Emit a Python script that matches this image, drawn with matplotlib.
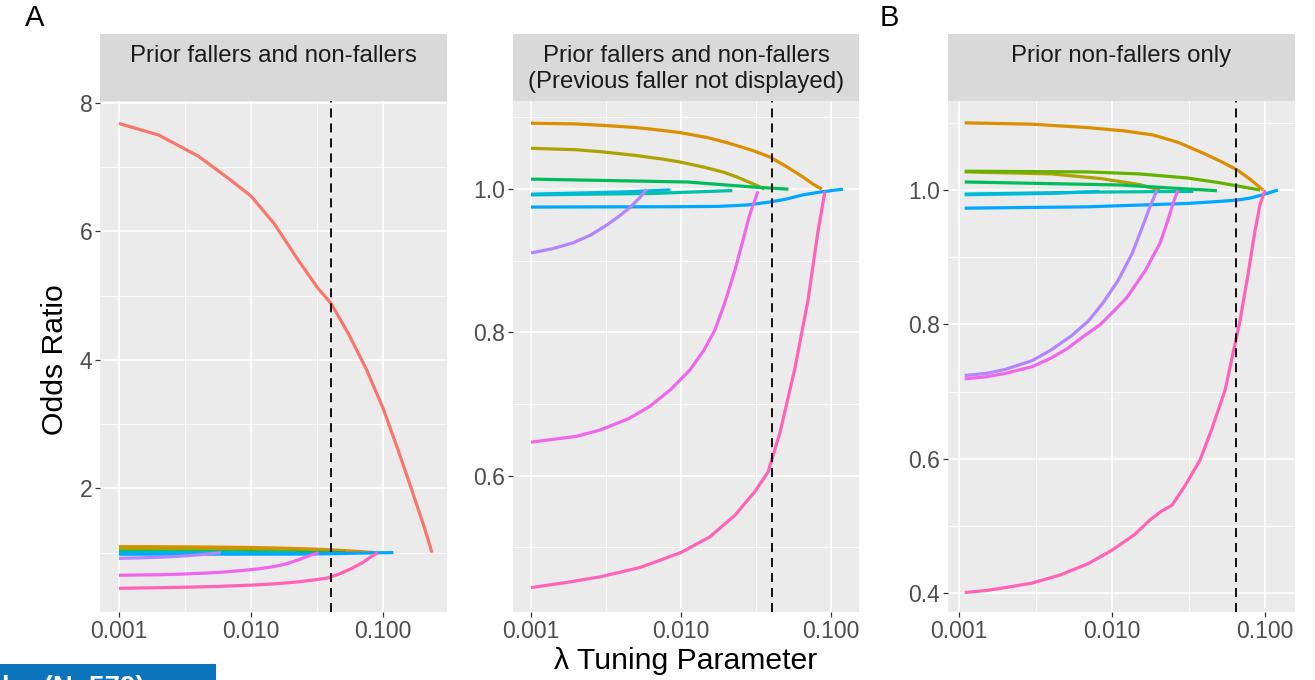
import numpy as np
import matplotlib
matplotlib.use("Agg")
from matplotlib import pyplot as plt
from matplotlib.patches import Rectangle

plt.rcParams['font.family'] = ['Liberation Sans', 'DejaVu Sans']

# ggplot hue colours (11 groups)
col_red = '#F8766D'
col_orange = '#DB8E00'
col_olive = '#AEA200'
col_yg = '#64B200'
col_green = '#00BD5C'
col_teal = '#00C1A7'
col_cyan = '#00BADE'
col_blue = '#00A6FF'
col_lav = '#B385FF'
col_mag = '#EF67EB'
col_pink = '#FF63B6'

# ---- A: prior fallers and non-fallers ----
lam_red = [0.001, 0.002, 0.004, 0.007, 0.01, 0.015, 0.022, 0.032, 0.0404,
           0.055, 0.075, 0.1, 0.13, 0.17, 0.205, 0.235]
or_red = [7.68, 7.5, 7.17, 6.8, 6.55, 6.12, 5.6, 5.12, 4.88,
          4.4, 3.85, 3.25, 2.6, 1.9, 1.4, 1.0]

lam_orange_A = [0.001, 0.002, 0.003, 0.005, 0.0075, 0.0098, 0.015, 0.021,
                0.030, 0.039, 0.051, 0.065, 0.076, 0.087]
or_orange_A = [1.092, 1.091, 1.089, 1.086, 1.082, 1.079, 1.072, 1.064,
               1.054, 1.045, 1.031, 1.017, 1.007, 1.0]

lam_olive_A = [0.001, 0.002, 0.003, 0.005, 0.0075, 0.0098, 0.014, 0.019,
               0.0236, 0.029, 0.033, 0.036]
or_olive_A = [1.057, 1.055, 1.052, 1.047, 1.042, 1.038, 1.031, 1.024,
              1.017, 1.009, 1.004, 1.0]

lam_green_A = [0.001, 0.011, 0.030, 0.052]
or_green_A = [1.014, 1.010, 1.003, 1.0]

lam_teal_A = [0.001, 0.0065, 0.022]
or_teal_A = [0.992, 0.994, 0.998]

lam_cyan_A = [0.001, 0.004, 0.0085]
or_cyan_A = [0.993, 0.996, 0.999]

lam_blue_A = [0.001, 0.01, 0.018, 0.028, 0.039, 0.05, 0.065, 0.085, 0.12]
or_blue_A = [0.975, 0.9755, 0.976, 0.978, 0.982, 0.986, 0.992, 0.996, 1.0]

lam_lav_A = [0.001, 0.0014, 0.0019, 0.0025, 0.0031, 0.0038, 0.0046, 0.0053, 0.0059]
or_lav_A = [0.911, 0.917, 0.925, 0.936, 0.948, 0.961, 0.975, 0.988, 1.0]

lam_mag_A = [0.001, 0.002, 0.0029, 0.0045, 0.0062, 0.0085, 0.0115, 0.0142,
             0.0168, 0.0195, 0.0229, 0.026, 0.0287, 0.0326]
or_mag_A = [0.647, 0.655, 0.664, 0.68, 0.697, 0.72, 0.748, 0.775,
            0.803, 0.84, 0.887, 0.93, 0.964, 0.997]

lam_pink_A = [0.001, 0.00182, 0.00288, 0.00533, 0.01, 0.0156, 0.0229, 0.0311,
              0.038, 0.0457, 0.0575, 0.0703, 0.0818, 0.0912]
or_pink_A = [0.444, 0.452, 0.459, 0.472, 0.493, 0.515, 0.545, 0.578,
             0.605, 0.66, 0.75, 0.845, 0.94, 0.997]

# ---- B: prior non-fallers only ----
lam_orange_B = [0.00109, 0.003, 0.00687, 0.012, 0.0185, 0.027, 0.0394, 0.052,
                0.0657, 0.08, 0.097]
or_orange_B = [1.100, 1.098, 1.093, 1.088, 1.082, 1.071, 1.055, 1.042,
               1.030, 1.016, 1.0]

lam_olive_B = [0.00109, 0.004, 0.0085, 0.0152, 0.0206]
or_olive_B = [1.027, 1.024, 1.017, 1.008, 1.0]

lam_yg_B = [0.00109, 0.00687, 0.015, 0.0309, 0.05, 0.07, 0.0927]
or_yg_B = [1.028, 1.027, 1.024, 1.018, 1.011, 1.005, 1.0]

lam_green_B = [0.00109, 0.0113, 0.0485]
or_green_B = [1.012, 1.0075, 0.999]

lam_teal_B = [0.00109, 0.008, 0.034]
or_teal_B = [0.994, 0.997, 0.998]

lam_cyan_B = [0.00109, 0.004, 0.0083]
or_cyan_B = [0.993, 0.995, 0.998]

lam_blue_B = [0.00109, 0.00687, 0.0309, 0.05, 0.0657, 0.08, 0.097, 0.11, 0.1216]
or_blue_B = [0.973, 0.975, 0.980, 0.983, 0.985, 0.988, 0.993, 0.997, 1.0]

lam_lav_B = [0.00109, 0.0015, 0.002, 0.003, 0.004, 0.0055, 0.007, 0.0088,
             0.011, 0.0135, 0.0158, 0.0177, 0.0197]
or_lav_B = [0.724, 0.727, 0.733, 0.746, 0.762, 0.784, 0.805, 0.833,
            0.866, 0.905, 0.945, 0.975, 1.0]

lam_mag_B = [0.00109, 0.0015, 0.002, 0.003, 0.004, 0.0051, 0.0065, 0.0084,
             0.0105, 0.0125, 0.0165, 0.0206, 0.0232, 0.0251, 0.027]
or_mag_B = [0.719, 0.722, 0.727, 0.737, 0.75, 0.764, 0.782, 0.80,
            0.822, 0.84, 0.88, 0.921, 0.955, 0.981, 1.0]

lam_pink_B = [0.00109, 0.0015, 0.00185, 0.003, 0.00457, 0.007, 0.01, 0.014,
              0.0177, 0.021, 0.0247, 0.03, 0.0376, 0.045, 0.0548, 0.0615,
              0.0687, 0.0775, 0.0861, 0.0927, 0.1]
or_pink_B = [0.401, 0.404, 0.407, 0.415, 0.427, 0.444, 0.464, 0.487,
             0.509, 0.522, 0.531, 0.56, 0.598, 0.645, 0.702, 0.755,
             0.806, 0.875, 0.94, 0.978, 1.0]

# selected lambda (dashed lines)
lam_sel_A = 0.0404
lam_sel_B = 0.0646

strip_titles = ['Prior fallers and non-fallers',
                'Prior fallers and non-fallers\n(Previous faller not displayed)',
                'Prior non-fallers only']

series_A = [(lam_orange_A, or_orange_A, col_orange),
            (lam_olive_A, or_olive_A, col_olive),
            (lam_green_A, or_green_A, col_green),
            (lam_teal_A, or_teal_A, col_teal),
            (lam_cyan_A, or_cyan_A, col_cyan),
            (lam_blue_A, or_blue_A, col_blue),
            (lam_lav_A, or_lav_A, col_lav),
            (lam_mag_A, or_mag_A, col_mag),
            (lam_pink_A, or_pink_A, col_pink)]
panel1 = [(lam_red, or_red, col_red)] + series_A
panel2 = series_A
panel3 = [(lam_orange_B, or_orange_B, col_orange),
          (lam_olive_B, or_olive_B, col_olive),
          (lam_yg_B, or_yg_B, col_yg),
          (lam_green_B, or_green_B, col_green),
          (lam_teal_B, or_teal_B, col_teal),
          (lam_cyan_B, or_cyan_B, col_cyan),
          (lam_blue_B, or_blue_B, col_blue),
          (lam_lav_B, or_lav_B, col_lav),
          (lam_mag_B, or_mag_B, col_mag),
          (lam_pink_B, or_pink_B, col_pink)]

W, H = 1315, 680
fig = plt.figure(figsize=(W / 100, H / 100), dpi=100)


def px(x0, y_top, x1, y_bot):
    return [x0 / W, 1 - y_bot / H, (x1 - x0) / W, (y_bot - y_top) / H]


panels = [
    dict(box=(100, 447), data=panel1, sel=lam_sel_A, xlim=(-3.144, -0.515),
         ylim=(0.075, 8.03), yt=[2, 4, 6, 8], ym=[1, 3, 5, 7], fmt='%d'),
    dict(box=(513, 859), data=panel2, sel=lam_sel_A, xlim=(-3.12, -0.813),
         ylim=(0.41, 1.123), yt=[0.6, 0.8, 1.0], ym=[0.5, 0.7, 0.9, 1.1], fmt='%.1f'),
    dict(box=(948, 1295), data=panel3, sel=lam_sel_B, xlim=(-3.072, -0.804),
         ylim=(0.372, 1.1325), yt=[0.4, 0.6, 0.8, 1.0], ym=[0.5, 0.7, 0.9, 1.1], fmt='%.1f'),
]

for p, title in zip(panels, strip_titles):
    x0, x1 = p['box']
    ax = fig.add_axes(px(x0, 101, x1, 612))
    ax.set_facecolor('#EBEBEB')
    ax.set_xscale('log')
    ax.set_xlim(10 ** p['xlim'][0], 10 ** p['xlim'][1])
    ax.set_ylim(*p['ylim'])
    for s in ax.spines.values():
        s.set_visible(False)

    # grid
    for m in [10 ** -3.5, 10 ** -2.5, 10 ** -1.5, 10 ** -0.5]:
        ax.axvline(m, color='white', lw=0.6, zorder=0)
    for m in p['ym']:
        ax.axhline(m, color='white', lw=0.6, zorder=0)
    for t in [0.001, 0.01, 0.1]:
        ax.axvline(t, color='white', lw=1.2, zorder=0)
    for t in p['yt']:
        ax.axhline(t, color='white', lw=1.2, zorder=0)

    for lam, val, c in p['data']:
        ax.plot(lam, val, color=c, lw=2.3, solid_capstyle='butt',
                solid_joinstyle='round', zorder=2)

    ax.axvline(p['sel'], color='black', lw=1.3, ls=(0, (5, 3.3)), zorder=3)

    ax.set_xticks([0.001, 0.01, 0.1])
    ax.set_xticklabels(['0.001', '0.010', '0.100'])
    ax.minorticks_off()
    ax.set_yticks(p['yt'])
    ax.set_yticklabels([p['fmt'] % v for v in p['yt']])
    ax.tick_params(length=3.5, width=0.9, color='#333333', labelcolor='#4D4D4D',
                   labelsize=16.5, pad=2)

    # strip
    sx = fig.add_axes(px(x0, 34, x1, 101))
    sx.set_facecolor('#D9D9D9')
    sx.set_xticks([])
    sx.set_yticks([])
    for s in sx.spines.values():
        s.set_visible(False)
    lines = title.split('\n')
    for i, line in enumerate(lines):
        sx.text(0.5, 0.67 - 0.39 * i, line, ha='center', va='center',
                fontsize=17.3, color='#1A1A1A', transform=sx.transAxes)

fig.text(35 / W, 1 - 18 / H, 'A', fontsize=21, ha='center', va='center')
fig.text(889 / W, 1 - 18 / H, 'B', fontsize=21, ha='center', va='center')
fig.text(686 / W, 1 - 661 / H, 'λ Tuning Parameter', fontsize=21.7,
         ha='center', va='center')
fig.text(55 / W, 1 - 360 / H, 'Odds Ratio', fontsize=21.7, rotation=90,
         ha='center', va='center')

# cut-off banner at the bottom left
fig.patches.append(Rectangle((0, 0), 216 / W, 16 / H, transform=fig.transFigure,
                             facecolor='#0B74BA', edgecolor='none'))
fig.text(2 / W, 1 - 675 / H, 'ler (N=579)', fontsize=20, fontweight='bold',
         color='white', ha='left', va='top')

fig.savefig('out.png', dpi=100)
